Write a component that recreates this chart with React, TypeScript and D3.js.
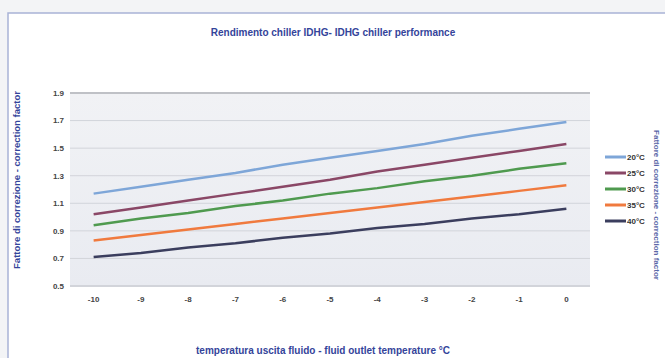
import React from "react";
import * as d3 from "d3";

const categories = ["-10", "-9", "-8", "-7", "-6", "-5", "-4", "-3", "-2", "-1", "0"];
const yTicks = [0.5, 0.7, 0.9, 1.1, 1.3, 1.5, 1.7, 1.9];
const seriesNames = ["20°C", "25°C", "30°C", "35°C", "40°C"];
const s20 = [1.17, 1.22, 1.27, 1.32, 1.38, 1.43, 1.48, 1.53, 1.59, 1.64, 1.69];
const s25 = [1.02, 1.07, 1.12, 1.17, 1.22, 1.27, 1.33, 1.38, 1.43, 1.48, 1.53];
const s30 = [0.94, 0.99, 1.03, 1.08, 1.12, 1.17, 1.21, 1.26, 1.3, 1.35, 1.39];
const s35 = [0.83, 0.87, 0.91, 0.95, 0.99, 1.03, 1.07, 1.11, 1.15, 1.19, 1.23];
const s40 = [0.71, 0.74, 0.78, 0.81, 0.85, 0.88, 0.92, 0.95, 0.99, 1.02, 1.06];
const colors = ["#7ea6d8", "#8a4766", "#4f9a4f", "#f07a3e", "#3b3e5e"];

const title = "Rendimento chiller IDHG- IDHG chiller performance";
const xTitle = "temperatura uscita fluido - fluid outlet temperature °C";
const yTitle = "Fattore di correzione - correction factor";

export default function App() {
  const W = 665, H = 358;
  const x = d3.scalePoint<string>().domain(categories).range([70, 590]).padding(0.5);
  const y = d3.scaleLinear().domain([0.5, 1.9]).range([286, 93]);
  const all = [s20, s25, s30, s35, s40];
  const line = d3
    .line<number>()
    .x((_, i) => x(categories[i]) as number)
    .y((d) => y(d));
  const font = "Arial, 'Liberation Sans', sans-serif";
  return (
    <svg
      width={W}
      height={H}
      style={{ position: "absolute", left: 0, top: 0, display: "block" }}
      fontFamily={font}
    >
      <defs>
        <linearGradient id="bg" x1="0" y1="0" x2="0" y2="1">
          <stop offset="0" stopColor="#f1f2f5" />
          <stop offset="1" stopColor="#e9ebf1" />
        </linearGradient>
      </defs>
      <rect x={0} y={0} width={W} height={H} fill="#f3f4f6" />
      <rect x={8} y={13} width={W} height={H} fill="#ffffff" stroke="#a9b3d6" strokeWidth={1.5} />
      <text x={333} y={36} textAnchor="middle" fontSize={10} fill="#34449a" fontWeight={600}>
        {title}
      </text>
      <text
        transform={`translate(20,180) rotate(-90)`}
        textAnchor="middle"
        fontSize={9.5}
        fill="#34449a"
        fontWeight={600}
      >
        {yTitle}
      </text>
      <text
        transform={`translate(654,205) rotate(90)`}
        textAnchor="middle"
        fontSize={8}
        fill="#5a67a8"
        fontWeight={600}
      >
        {yTitle}
      </text>
      <rect x={70} y={y(1.9)} width={520} height={y(0.5) - y(1.9)} fill="url(#bg)" />
      {yTicks.map((t) => (
        <g key={t}>
          <line
            x1={70}
            x2={590}
            y1={y(t)}
            y2={y(t)}
            stroke={t === 1.9 ? "#bfc1c6" : "#d2d4da"}
            strokeWidth={t === 1.9 || t === 0.5 ? 2 : 1}
          />
          <text x={64} y={y(t)} dy="0.35em" textAnchor="end" fontSize={8} fontWeight={700} fill="#444">
            {t.toFixed(1)}
          </text>
        </g>
      ))}
      {categories.map((c) => (
        <text key={c} x={x(c)} y={302} textAnchor="middle" fontSize={8} fontWeight={700} fill="#444">
          {c}
        </text>
      ))}
      {all.map((s, i) => (
        <path key={i} d={line(s) || ""} fill="none" stroke={colors[i]} strokeWidth={2.5} />
      ))}
      {seriesNames.map((n, i) => (
        <g key={n} transform={`translate(605,${157 + i * 16})`}>
          <line x1={0} x2={21} y1={0} y2={0} stroke={colors[i]} strokeWidth={3} />
          <text x={22} y={0} dy="0.35em" fontSize={8} fontWeight={700} fill="#333">
            {n}
          </text>
        </g>
      ))}
      <text x={323} y={354} textAnchor="middle" fontSize={10} fill="#34449a" fontWeight={600}>
        {xTitle}
      </text>
    </svg>
  );
}
